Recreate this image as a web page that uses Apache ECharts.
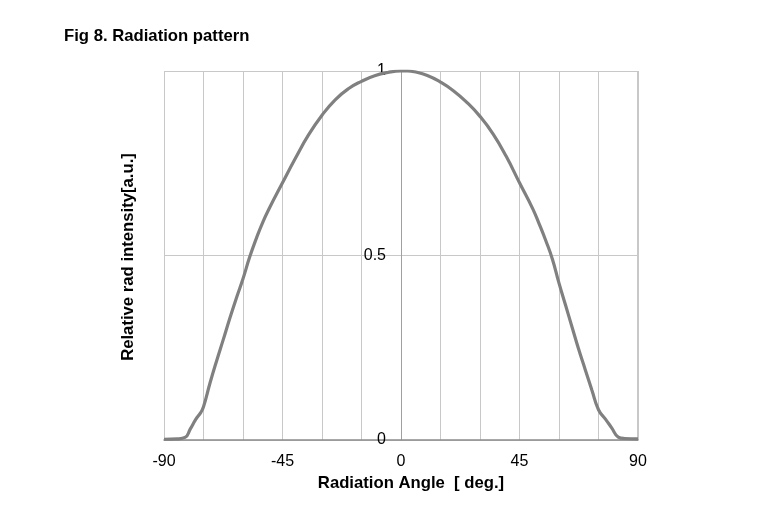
<!DOCTYPE html>
<html>
<head>
<meta charset="utf-8">
<script src="https://cdn.jsdelivr.net/npm/echarts@6/dist/echarts.min.js"></script>
<style>html,body{margin:0;padding:0;background:#fff}#c{width:762px;height:507px}</style>
</head>
<body>
<div id="c"></div>
<script>
const angles = [-90,-85,-82,-80,-78,-76,-75,-72.5,-70,-67.5,-65,-62.5,-60,-57.5,-55,-52.5,-50,-45,-40,-35,-30,-25,-20,-15,-10,-5,0,2.5,5,10,15,20,25,30,35,40,45,50,52.5,55,57.5,60,62.5,65,67.5,70,72.5,75,77.5,80,82.5,85,90];
const intensity = [0.002,0.003,0.007,0.03,0.055,0.075,0.09,0.155,0.215,0.272,0.33,0.385,0.437,0.495,0.545,0.59,0.628,0.697,0.765,0.828,0.88,0.922,0.952,0.972,0.987,0.996,1.0,1.0,0.998,0.988,0.97,0.946,0.915,0.877,0.829,0.768,0.697,0.627,0.585,0.54,0.49,0.425,0.365,0.305,0.245,0.19,0.135,0.082,0.058,0.033,0.008,0.004,0.003];
const xTickLabels = [-90,-45,0,45,90];
const yTickLabels = [0,0.5,1];

const chart = echarts.init(document.getElementById('c'));
const font = "'Liberation Sans', Arial, sans-serif";
chart.setOption({
  animation: false,
  title: {text: 'Fig 8. Radiation pattern', left: 59, top: 23,
    textStyle: {fontFamily: font, fontSize: 16.7, fontWeight: 'bold', color: '#000'}},
  grid: {left: 164, right: 124, top: 71, bottom: 67},
  xAxis: {
    type: 'value', min: -90, max: 90, interval: 15,
    name: 'Radiation Angle  [ deg.]', nameLocation: 'middle', nameGap: 34,
    nameTextStyle: {fontFamily: font, fontSize: 16.7, fontWeight: 'bold', color: '#000', padding: [0, 0, 0, 20]},
    axisLine: {onZero: false, lineStyle: {color: '#8c8c8c', width: 1.5}},
    axisTick: {show: false},
    axisLabel: {fontFamily: font, fontSize: 16, color: '#000', margin: 14,
      formatter: v => xTickLabels.includes(v) ? String(v) : ''},
    splitLine: {show: true, lineStyle: {color: '#c8c8c8', width: 1}}
  },
  yAxis: {
    type: 'value', min: 0, max: 1, interval: 0.5, offset: -237,
    axisLine: {show: true, onZero: false, lineStyle: {color: '#a0a0a0', width: 1}},
    axisTick: {show: false},
    axisLabel: {fontFamily: font, fontSize: 16, color: '#000', margin: 15,
      formatter: v => yTickLabels.includes(v) ? String(v) : ''},
    splitLine: {show: true, lineStyle: {color: '#c8c8c8', width: 1}}
  },
  graphic: [{
    type: 'text', x: 128, y: 257, rotation: Math.PI / 2,
    style: {text: 'Relative rad intensity[a.u.]', fontFamily: font, fontSize: 16.7,
      fontWeight: 'bold', fill: '#000', textAlign: 'center', textVerticalAlign: 'middle'}
  }, {
    type: 'rect', shape: {x: 637, y: 71, width: 1, height: 369}, style: {fill: '#c8c8c8'}, silent: true
  }],
  series: [{
    type: 'line', data: angles.map((a, i) => [a, intensity[i]]),
    smooth: 0.5, symbol: 'none',
    lineStyle: {color: '#808080', width: 3.2}
  }]
});
</script>
</body>
</html>
